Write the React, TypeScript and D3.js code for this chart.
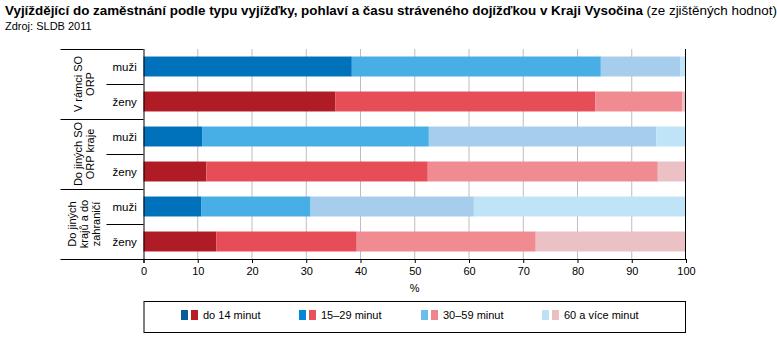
import React, { useEffect, useRef } from "react";
import * as d3 from "d3";

// data (percent, cumulative pieces)
const groups = ["V rámci SO ORP", "Do jiných SO ORP kraje", "Do jiných krajů a do zahraničí"];
const groupLines = [["V rámci SO", "ORP"], ["Do jiných SO", "ORP kraje"], ["Do jiných", "krajů a do", "zahraničí"]];
const sexes = ["muži", "ženy"];
const timeCats = ["do 14 minut", "15–29 minut", "30–59 minut", "60 a více minut"];

const do14 = [38.4, 35.4, 10.8, 11.6, 10.7, 13.4];
const min15to29 = [45.9, 47.9, 41.8, 40.8, 20.1, 25.9];
const min30to59 = [14.7, 16.0, 41.9, 42.4, 30.1, 33.0];
const min60plus = [1.0, 0.7, 5.5, 5.2, 39.1, 27.7];

const blueBars = ["#0071bb", "#47aee6", "#a7cdec", "#c0e4f7"];
const redBars = ["#b01c25", "#e64d57", "#f08b91", "#ebc1c5"];
const blueLegend = ["#0b5b9c", "#0088dd", "#6cbcee", "#bde0f5"];
const redLegend = ["#b81c25", "#e8505a", "#f0868d", "#ecbfc3"];

const xTicks = [0, 10, 20, 30, 40, 50, 60, 70, 80, 90, 100];

export default function App() {
  const ref = useRef<SVGSVGElement>(null);

  useEffect(() => {
    const svg = d3.select(ref.current);
    svg.selectAll("*").remove();

    const font = "Arial, 'Liberation Sans', sans-serif";
    const margin = { top: 49, left: 143.5, right: 91, bottom: 92 };
    const width = 777 - margin.left - margin.right;
    const height = 351 - margin.top - margin.bottom;

    // title
    const title = svg.append("text")
      .attr("x", 5).attr("y", 15)
      .style("font-family", font).style("font-size", "13.4px").attr("fill", "#000");
    title.append("tspan").style("font-weight", "bold")
      .text("Vyjíždějící do zaměstnání podle typu vyjížďky, pohlaví a času stráveného dojížďkou v Kraji Vysočina");
    title.append("tspan").text(" (ze zjištěných hodnot)");
    svg.append("text").attr("x", 5).attr("y", 30)
      .style("font-family", font).style("font-size", "11px").text("Zdroj: SLDB 2011");

    const rows: { key: string; g: number; s: number; vals: number[] }[] = [];
    groups.forEach((g, gi) => sexes.forEach((s, si) => {
      const i = gi * 2 + si;
      rows.push({ key: g + "|" + s, g: gi, s: si, vals: [do14[i], min15to29[i], min30to59[i], min60plus[i]] });
    }));

    const x = d3.scaleLinear().domain([0, 100]).range([0, width]);
    const y = d3.scaleBand().domain(rows.map(r => r.key)).range([0, height]).paddingInner(0.43).paddingOuter(0.215);
    const step = y.step();

    const chart = svg.append("g").attr("transform", `translate(${margin.left},${margin.top})`);

    // grid
    chart.selectAll(".grid").data(xTicks.slice(1, -1)).enter().append("line")
      .attr("x1", d => x(d)).attr("x2", d => x(d)).attr("y1", 0).attr("y2", height)
      .attr("stroke", "#bdbdbd").attr("stroke-width", 1);

    // stacked bars
    rows.forEach(r => {
      let acc = 0;
      const cols = r.s === 0 ? blueBars : redBars;
      r.vals.forEach((v, k) => {
        chart.append("rect")
          .attr("x", x(acc)).attr("width", x(acc + v) - x(acc))
          .attr("y", y(r.key)!).attr("height", y.bandwidth())
          .attr("fill", cols[k]);
        acc += v;
      });
    });

    // axis
    const ax = chart.append("g").attr("transform", `translate(0,${height})`)
      .call(d3.axisBottom(x).tickValues(xTicks).tickSize(4).tickSizeOuter(0));
    ax.select(".domain").remove();
    ax.selectAll("line").attr("stroke", "#000");
    ax.selectAll("text").style("font-family", font).style("font-size", "11px").attr("fill", "#000").attr("dy", "0.71em").attr("y", 8);
    chart.append("text").attr("x", x(50)).attr("y", height + 33).attr("text-anchor", "middle")
      .style("font-family", font).style("font-size", "11px").text("%");

    // frame lines
    chart.append("line").attr("x1", -83).attr("x2", width).attr("y1", height + 0.5).attr("y2", height + 0.5).attr("stroke", "#000");
    chart.append("line").attr("x1", 0.5).attr("x2", 0.5).attr("y1", 0).attr("y2", height + 4).attr("stroke", "#000");
    chart.append("line").attr("x1", width - 0.5).attr("x2", width - 0.5).attr("y1", 0).attr("y2", height).attr("stroke", "#000");

    // category labels on the left
    groups.forEach((g, gi) => {
      const top = gi * step * 2;
      chart.append("line").attr("x1", -83).attr("x2", 0).attr("y1", top + 0.5).attr("y2", top + 0.5).attr("stroke", "#000");
      chart.append("line").attr("x1", -37).attr("x2", 0).attr("y1", top + step + 0.5).attr("y2", top + step + 0.5).attr("stroke", "#000");
      const lines = groupLines[gi];
      const t = chart.append("text")
        .attr("transform", `translate(-60,${top + step}) rotate(-90)`)
        .attr("text-anchor", "middle")
        .style("font-family", font).style("font-size", "11px");
      lines.forEach((l, li) => {
        t.append("tspan").attr("x", 0).attr("y", (li - (lines.length - 1) / 2) * 12 + 4).text(l);
      });
    });
    rows.forEach(r => {
      chart.append("text").attr("x", -31).attr("y", y(r.key)! + y.bandwidth() / 2 + 4)
        .style("font-family", font).style("font-size", "11.5px").text(sexes[r.s]);
    });

    // legend
    const lg = svg.append("g");
    lg.append("rect").attr("x", margin.left + 0.5).attr("y", 301.5).attr("width", width - 1).attr("height", 31)
      .attr("fill", "none").attr("stroke", "#000");
    const legX = [181, 299, 421, 542];
    timeCats.forEach((c, k) => {
      lg.append("rect").attr("x", legX[k]).attr("y", 310).attr("width", 7).attr("height", 10).attr("fill", blueLegend[k]);
      lg.append("rect").attr("x", legX[k] + 10).attr("y", 310).attr("width", 7).attr("height", 10).attr("fill", redLegend[k]);
      lg.append("text").attr("x", legX[k] + 22).attr("y", 319)
        .style("font-family", font).style("font-size", "11px").text(c);
    });
  }, []);

  return <svg ref={ref} width={777} height={351} style={{ display: "block", position: "absolute", left: 0, top: 0, background: "#fff" }} />;
}
